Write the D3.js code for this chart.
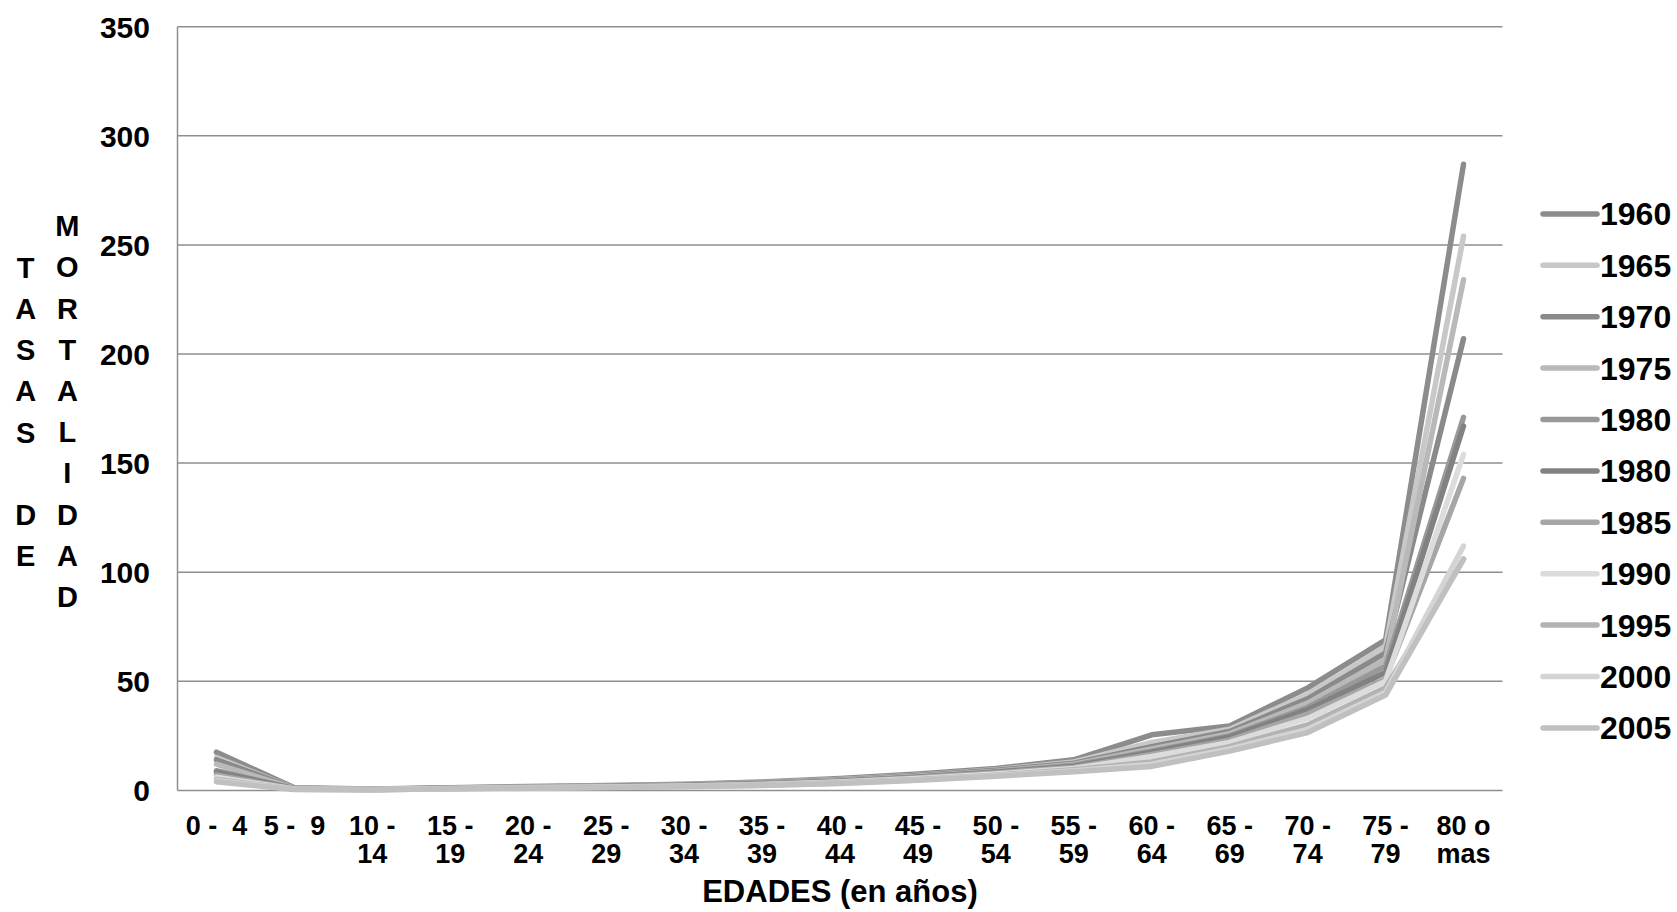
<!doctype html>
<html>
  <head>
    <meta charset="utf-8">
    <title>Tasas de mortalidad por edades</title>
    <script src="https://cdnjs.cloudflare.com/ajax/libs/d3/7.8.5/d3.min.js"></script>
    <style>
      body { margin: 0; background: #fff; }
      text { font-family: "Liberation Sans", Arial, sans-serif; font-weight: bold; fill: #000; }
    </style>
  </head>
  <body>
    <div id="chart"></div>
    <script>

      // age groups (x categories)
      const ageGroups = ["0 -  4", "5 -  9", "10 - 14", "15 - 19", "20 - 24", "25 - 29", "30 - 34",
        "35 - 39", "40 - 44", "45 - 49", "50 - 54", "55 - 59", "60 - 64", "65 - 69",
        "70 - 74", "75 - 79", "80 o mas"];

      // legend names, in the order they appear
      const years = ["1960", "1965", "1970", "1975", "1980", "1980", "1985", "1990", "1995", "2000", "2005"];

      // line colours
      const colors = ["#8c8c8c", "#c8c8c8", "#8a8a8a", "#b9b9b9", "#999999", "#828282",
        "#a6a6a6", "#dcdcdc", "#b3b3b3", "#d4d4d4", "#c0c0c0"];

      // rates per series, one value per age group
      const r1960  = [17.5, 1.2, 0.6, 1.2, 1.8, 2.2, 2.8, 3.8, 5.5, 7.5, 10.0, 14.0, 25.5, 29.5, 47, 69, 287];
      const r1965  = [15.0, 1.0, 0.5, 1.1, 1.7, 2.0, 2.6, 3.5, 5.0, 7.0, 9.5, 13.0, 22.0, 28.0, 44, 66, 254];
      const r1970  = [14.0, 1.0, 0.5, 1.1, 1.6, 2.0, 2.5, 3.4, 4.8, 6.8, 9.2, 12.5, 20.0, 27.0, 42, 63, 207];
      const r1975  = [12.0, 0.9, 0.5, 1.0, 1.5, 1.8, 2.3, 3.2, 4.5, 6.5, 8.8, 12.0, 19.0, 26.0, 40, 60, 234];
      const r1980  = [9.0, 0.8, 0.4, 1.0, 1.5, 1.8, 2.2, 3.0, 4.3, 6.2, 8.5, 11.5, 18.0, 25.0, 38, 57, 171];
      const r1980b = [8.5, 0.8, 0.4, 1.0, 1.4, 1.7, 2.2, 3.0, 4.2, 6.0, 8.3, 11.0, 17.5, 24.5, 37, 54, 167];
      const r1985  = [7.0, 0.7, 0.4, 0.9, 1.3, 1.6, 2.0, 2.8, 4.0, 5.8, 8.0, 10.5, 16.5, 23.0, 35, 51, 143];
      const r1990  = [6.0, 0.6, 0.4, 0.9, 1.3, 1.6, 2.0, 2.7, 3.8, 5.5, 7.5, 10.0, 15.5, 22.0, 33, 50, 154];
      const r1995  = [5.0, 0.5, 0.3, 0.8, 1.2, 1.5, 1.9, 2.5, 3.5, 5.0, 7.0, 9.5, 13.0, 20.0, 30, 47, 106];
      const r2000  = [4.5, 0.5, 0.3, 0.8, 1.1, 1.4, 1.8, 2.4, 3.3, 4.8, 6.8, 9.0, 12.0, 19.0, 28, 45, 112];
      const r2005  = [4.0, 0.4, 0.3, 0.7, 1.0, 1.3, 1.7, 2.3, 3.2, 4.6, 6.5, 8.5, 11.0, 18.0, 26.5, 43.7, 106];

      const yTicks = [0, 50, 100, 150, 200, 250, 300, 350];

      const seriesValues = [r1960, r1965, r1970, r1975, r1980, r1980b, r1985, r1990, r1995, r2000, r2005];

      const width = 1677, height = 912;
      const plotLeft = 177.5, plotRight = 1502.5, plotTop = 26.7, plotBottom = 790.4;

      const svg = d3.select("#chart").append("svg")
        .attr("width", width)
        .attr("height", height);

      const x = d3.scalePoint().domain(ageGroups).range([plotLeft, plotRight]).padding(0.5);
      const y = d3.scaleLinear().domain([0, 350]).range([plotBottom, plotTop]);

      // gridlines
      svg.append("g").selectAll("line")
        .data(yTicks)
        .join("line")
        .attr("x1", plotLeft).attr("x2", plotRight)
        .attr("y1", d => y(d)).attr("y2", d => y(d))
        .attr("stroke", "#8e8e8e")
        .attr("stroke-width", 1.5);

      // left axis line
      svg.append("line")
        .attr("x1", plotLeft).attr("x2", plotLeft)
        .attr("y1", plotTop).attr("y2", plotBottom)
        .attr("stroke", "#8e8e8e")
        .attr("stroke-width", 1.5);

      // y tick labels
      svg.append("g").selectAll("text")
        .data(yTicks)
        .join("text")
        .attr("x", 150)
        .attr("y", d => y(d))
        .attr("dy", "0.36em")
        .attr("text-anchor", "end")
        .style("font-size", "30px")
        .text(d => d);

      // x tick labels, wrapped on the last space like the original
      const xLabels = svg.append("g").selectAll("text")
        .data(ageGroups)
        .join("text")
        .attr("text-anchor", "middle")
        .style("font-size", "27px")
        .style("white-space", "pre");

      xLabels.each(function(d) {
        const t = d3.select(this);
        let lines = [d];
        if (d.replace(/ +/g, " ").length > 6) {
          const k = d.lastIndexOf(" ");
          lines = [d.slice(0, k), d.slice(k + 1)];
        }
        lines.forEach((ln, i) => {
          t.append("tspan")
            .attr("x", x(d))
            .attr("y", 835 + i * 28)
            .text(ln);
        });
      });

      // x axis title
      svg.append("text")
        .attr("x", 840)
        .attr("y", 902)
        .attr("text-anchor", "middle")
        .style("font-size", "31px")
        .text("EDADES (en años)");

      // stacked vertical y title, two columns
      const col1 = "TASAS DE".split("");
      const col2 = "MORTALIDAD".split("");
      svg.append("g").selectAll("text")
        .data(col1)
        .join("text")
        .attr("x", 25.7)
        .attr("y", (d, i) => 267.4 + i * 41.2)
        .attr("dy", "0.36em")
        .attr("text-anchor", "middle")
        .style("font-size", "29px")
        .text(d => d);
      svg.append("g").selectAll("text")
        .data(col2)
        .join("text")
        .attr("x", 67.4)
        .attr("y", (d, i) => 225.7 + i * 41.2)
        .attr("dy", "0.36em")
        .attr("text-anchor", "middle")
        .style("font-size", "29px")
        .text(d => d);

      // series lines
      const line = d3.line()
        .x((d, i) => x(ageGroups[i]))
        .y(d => y(d));

      svg.append("g").selectAll("path")
        .data(seriesValues)
        .join("path")
        .attr("d", d => line(d))
        .attr("fill", "none")
        .attr("stroke", (d, i) => colors[i])
        .attr("stroke-width", 5.5)
        .attr("stroke-linejoin", "round")
        .attr("stroke-linecap", "round");

      // legend
      const legend = svg.append("g").selectAll("g")
        .data(years)
        .join("g")
        .attr("transform", (d, i) => `translate(0, ${213.9 + i * 51.4})`);

      legend.append("line")
        .attr("x1", 1543).attr("x2", 1597)
        .attr("stroke", (d, i) => colors[i])
        .attr("stroke-width", 5.5)
        .attr("stroke-linecap", "round");

      legend.append("text")
        .attr("x", 1600)
        .attr("dy", "0.36em")
        .style("font-size", "32px")
        .text(d => d);

    </script>
  </body>
</html>
